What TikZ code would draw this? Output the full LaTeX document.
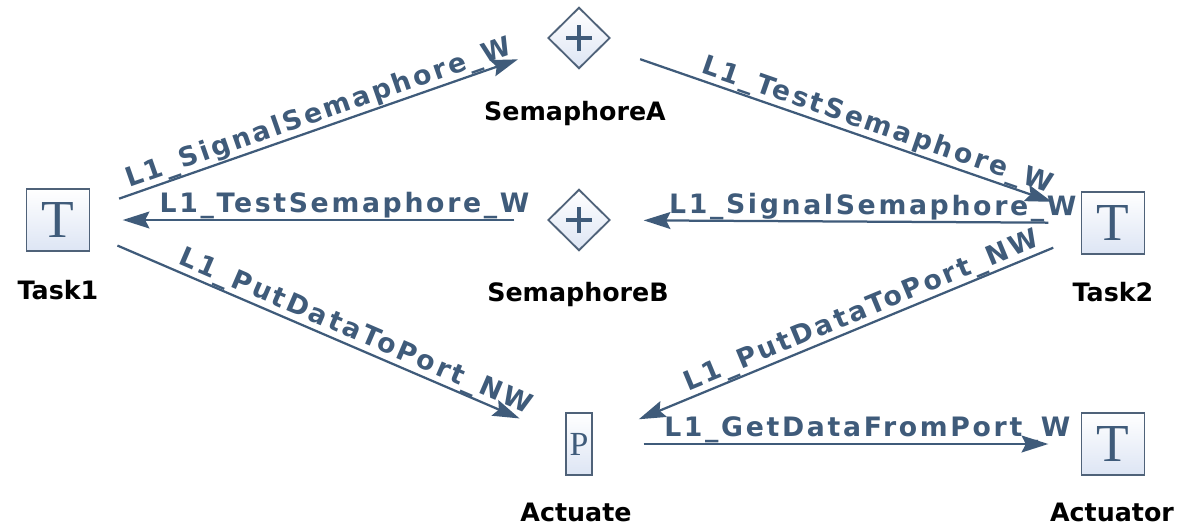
\documentclass[tikz,border=0pt]{standalone}
\usepackage{fontspec}
\usetikzlibrary{arrows.meta, shapes.geometric}

\newfontfamily\linkfont[LetterSpace=10]{DejaVu Sans}
\newfontfamily\namefont{DejaVu Sans}
\newfontfamily\iconfont{Liberation Serif}
\definecolor{linkblue}{HTML}{3F5B7A}
\definecolor{boxedge}{HTML}{4F6279}
\definecolor{boxfill}{HTML}{DDE5F4}

\tikzset{
  taskbox/.style={draw=boxedge, line width=1.3pt, top color=white, bottom color=boxfill,
    minimum width=1.575cm, minimum height=1.55cm, inner sep=0pt, text=linkblue,
    font=\iconfont\fontsize{38}{38}\selectfont},
  portbox/.style={taskbox, minimum width=0.65cm, font=\iconfont\fontsize{24}{24}\selectfont},
  semabox/.style={diamond, draw=boxedge, line width=1.3pt, top color=white, bottom color=boxfill,
    minimum width=1.55cm, minimum height=1.53cm, inner sep=0pt,
    path picture={
      \draw[linkblue, line width=3.3pt]
        ([xshift=-0.33cm]path picture bounding box.center) -- ([xshift=0.33cm]path picture bounding box.center)
        ([yshift=-0.33cm]path picture bounding box.center) -- ([yshift=0.33cm]path picture bounding box.center);
    }},
  objname/.style={anchor=base, inner sep=0pt, font=\namefont\bfseries\fontsize{18}{20}\selectfont},
  link/.style={draw=linkblue, line width=1.6pt, -{Stealth[length=19pt, width=12pt, inset=3pt]},
    shorten <=46pt, shorten >=46pt},
  linklabel/.style={sloped, above=5pt, anchor=base, inner sep=0pt, text=linkblue,
    font=\linkfont\bfseries\fontsize{19}{21}\selectfont}
}

\begin{document}
\begin{tikzpicture}[x=0.025cm, y=-0.025cm]
\useasboundingbox (0,0) rectangle (1183,527);
% Tasks, semaphores and port
\node[taskbox] (task1) at (58,220) {T};
\node[taskbox] (task2) at (1113,223) {T};
\node[taskbox] (actuator) at (1113,444) {T};
\node[semabox] (semA) at (579,38) {};
\node[semabox] (semB) at (579,220) {};
\node[portbox] (actuate) at (579,444) {P};
% Names below them
\node[objname] (task1-name) at (58,299) {Task1};
\node[objname] (task2-name) at (1113,301) {Task2};
\node[objname] (semA-name) at (575,120) {SemaphoreA};
\node[objname] (semB-name) at (578,301) {SemaphoreB};
\node[objname] (actuate-name) at (576,521) {Actuate};
\node[objname] (actuator-name) at (1112,521) {Actuator};
% Calls
\draw[link] (task1.center) -- node[linklabel, pos=0.51] {L1\_SignalSemaphore\_W} (semA.center);
\draw[link] (semB.center) -- node[linklabel, pos=0.45] {L1\_TestSemaphore\_W} (task1.center);
\draw[link] (task1.center) -- node[linklabel, pos=0.56] {L1\_PutDataToPort\_NW} (actuate.center);
\draw[link] (semA.center) -- node[linklabel, pos=0.55] {L1\_TestSemaphore\_W} (task2.center);
\draw[link] (task2.center) -- node[linklabel, pos=0.45] {L1\_SignalSemaphore\_W} (semB.center);
\draw[link] (task2.center) -- node[linklabel, pos=0.46] {L1\_PutDataToPort\_NW} (actuate.center);
\draw[link] (actuate.center) -- node[linklabel, pos=0.54] {L1\_GetDataFromPort\_W} (actuator.center);
\end{tikzpicture}
\end{document}
